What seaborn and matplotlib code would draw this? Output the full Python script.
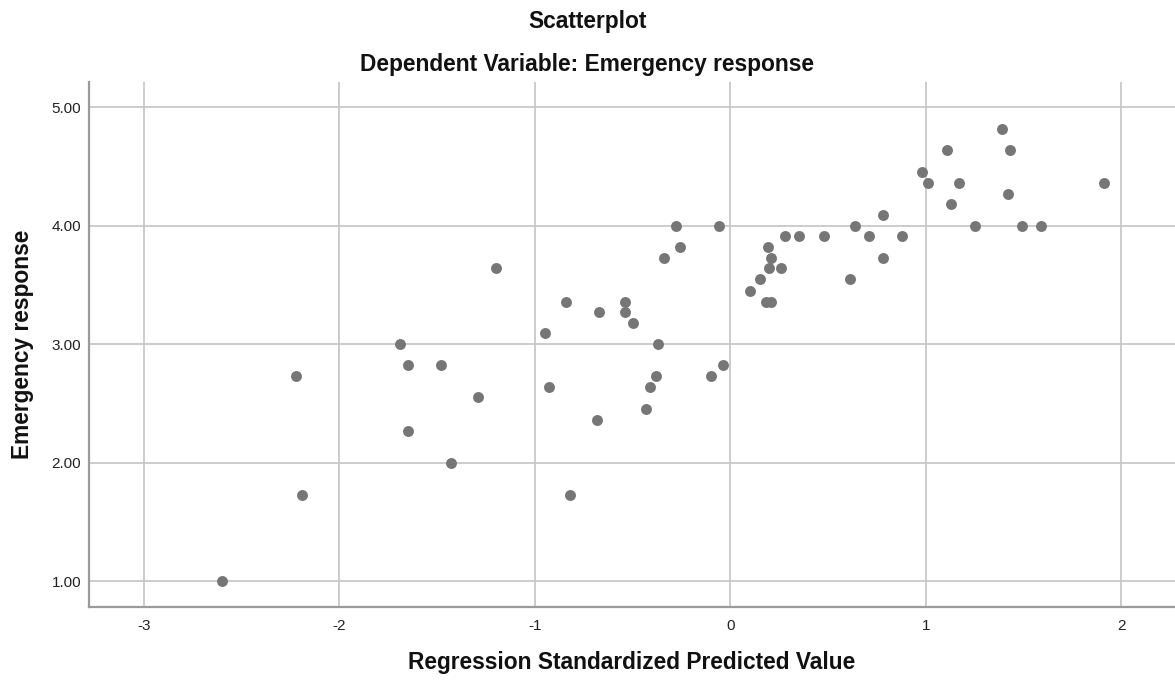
import matplotlib
matplotlib.use("Agg")
import matplotlib.pyplot as plt
import seaborn as sns
import pandas as pd

# Data
predicted = [-2.60, -2.22, -2.19, -1.69, -1.65, -1.65, -1.48, -1.43, -1.29, -1.20,
             -0.95, -0.93, -0.84, -0.82, -0.68, -0.67, -0.54, -0.54, -0.50, -0.43,
             -0.41, -0.38, -0.37, -0.34, -0.28, -0.26, -0.10, -0.06, -0.04,
             0.10, 0.15, 0.19, 0.21, 0.20, 0.26, 0.18, 0.21, 0.28, 0.35,
             0.48, 0.61, 0.64, 0.71, 0.78, 0.78, 0.88, 0.98, 1.01, 1.11,
             1.13, 1.17, 1.25, 1.39, 1.43, 1.42, 1.49, 1.59, 1.91]
response = [1.00, 2.73, 1.73, 3.00, 2.82, 2.27, 2.82, 2.00, 2.55, 3.64,
            3.09, 2.64, 3.36, 1.73, 2.36, 3.27, 3.36, 3.27, 3.18, 2.45,
            2.64, 2.73, 3.00, 3.73, 4.00, 3.82, 2.73, 4.00, 2.82,
            3.45, 3.55, 3.82, 3.73, 3.64, 3.64, 3.36, 3.36, 3.91, 3.91,
            3.91, 3.55, 4.00, 3.91, 4.09, 3.73, 3.91, 4.45, 4.36, 4.64,
            4.18, 4.36, 4.00, 4.82, 4.64, 4.27, 4.00, 4.00, 4.36]
x_ticks = [-3, -2, -1, 0, 1, 2]
y_ticks = [1.00, 2.00, 3.00, 4.00, 5.00]

df = pd.DataFrame({"x": predicted, "y": response})

sns.set_style("white")
plt.rcParams["font.family"] = ["Liberation Sans", "DejaVu Sans"]

fig = plt.figure(figsize=(11.75, 6.84), dpi=100)
ax = fig.add_axes([89 / 1175, (684 - 606.7) / 684, (1175 - 89) / 1175, (606.7 - 81.7) / 684])

sns.scatterplot(data=df, x="x", y="y", ax=ax, s=62, color="#767676",
                linewidth=0, zorder=3)

ax.set_xlim(-3.28, 2.274)
ax.set_ylim(0.783, 5.216)
ax.set_xticks(x_ticks)
ax.set_xticklabels([str(t) for t in x_ticks])
ax.set_yticks(y_ticks)
ax.set_yticklabels([f"{t:.2f}" for t in y_ticks])
ax.grid(True, color="#c8c8c8", linewidth=1.3, zorder=0)
ax.set_axisbelow(True)

for side in ["top", "right"]:
    ax.spines[side].set_visible(False)
for side in ["left", "bottom"]:
    ax.spines[side].set_color("#9a9a9a")
    ax.spines[side].set_linewidth(1.6)

ax.tick_params(axis="both", length=0, labelsize=11, colors="#222222")
ax.tick_params(axis="x", pad=8.5)
ax.tick_params(axis="y", pad=5.5)

ax.set_xlabel("Regression Standardized Predicted Value", fontsize=16.4,
              fontweight="bold", color="#111111")
ax.set_ylabel("Emergency response", fontsize=16.4, fontweight="bold", color="#111111")
ax.xaxis.set_label_coords(0.5, -(651 - 606.7) / 525)
ax.yaxis.set_label_coords(-(89 - 34) / 1086, 0.5)

fig.text(0.5, 1 - 28 / 684, "Scatterplot", ha="center", va="baseline",
         fontsize=16.4, fontweight="bold", color="#111111")
fig.text(0.5, 1 - 71 / 684, "Dependent Variable: Emergency response", ha="center",
         va="baseline", fontsize=16.4, fontweight="bold", color="#111111")

fig.savefig("out.png", dpi=100)
